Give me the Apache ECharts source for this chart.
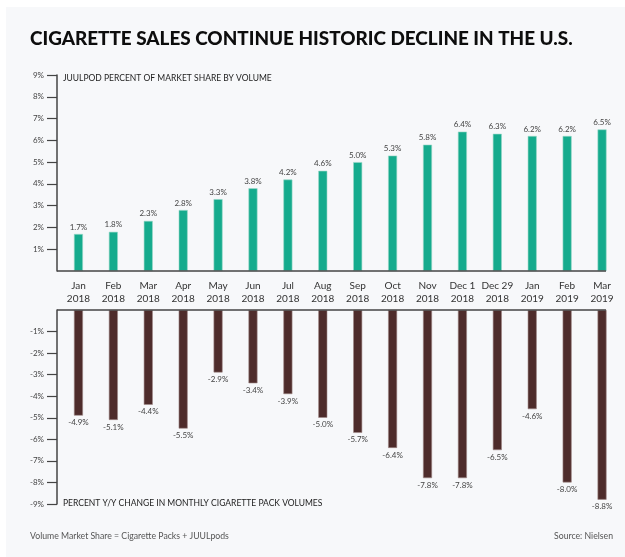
<!DOCTYPE html>
<html><head><meta charset="utf-8">
<script src="https://cdn.jsdelivr.net/npm/echarts@6/dist/echarts.min.js"></script>
<style>html,body{margin:0;padding:0;background:#fff}#c{width:625px;height:557px}</style>
</head><body><div id="c"></div>
<script>
const categories = ["Jan\n2018","Feb\n2018","Mar\n2018","Apr\n2018","May\n2018","Jun\n2018","Jul\n2018","Aug\n2018","Sep\n2018","Oct\n2018","Nov\n2018","Dec 1\n2018","Dec 29\n2018","Jan\n2019","Feb\n2019","Mar\n2019"];
const juulShare = [1.7,1.8,2.3,2.8,3.3,3.8,4.2,4.6,5.0,5.3,5.8,6.4,6.3,6.2,6.2,6.5];
const cigChange = [-4.9,-5.1,-4.4,-5.5,-2.9,-3.4,-3.9,-5.0,-5.7,-6.4,-7.8,-7.8,-6.5,-4.6,-8.0,-8.8];
const topTicks = [1,2,3,4,5,6,7,8,9];
const bottomTicks = [-1,-2,-3,-4,-5,-6,-7,-8,-9];

const FONT = 'Lato';
const chart = echarts.init(document.getElementById('c'));
const axisColor = '#444';
chart.setOption({
  backgroundColor: '#fff',
  animation: false,
  graphic: [
    {type:'rect', shape:{x:6,y:7,width:625,height:557}, style:{fill:'#f7f8fa'}, z:-10},
    {type:'text', left:30, top:29, style:{text:'CIGARETTE SALES CONTINUE HISTORIC DECLINE IN THE U.S.', font:'900 18.9px '+FONT, fill:'#0d0d0d'}},
    {type:'text', left:63, top:74, style:{text:'JUULPOD PERCENT OF MARKET SHARE BY VOLUME', font:'8.5px '+FONT, fill:'#222'}},
    {type:'text', left:63, top:499, style:{text:'PERCENT Y/Y CHANGE IN MONTHLY CIGARETTE PACK VOLUMES', font:'8.5px '+FONT, fill:'#222'}},
    {type:'text', left:30, top:532, style:{text:'Volume Market Share = Cigarette Packs + JUULpods', font:'8.7px '+FONT, fill:'#555'}},
    {type:'text', right:12, top:532, style:{text:'Source: Nielsen', font:'8.7px '+FONT, fill:'#555'}},
    {type:'line', shape:{x1:57,y1:271,x2:606,y2:271}, style:{stroke:axisColor, lineWidth:1.5}, z:20},
    {type:'line', shape:{x1:57,y1:310,x2:606,y2:310}, style:{stroke:axisColor, lineWidth:1.5}, z:20}
  ],
  grid: [
    {left:61, right:5.5, top:75, height:196},
    {left:61, right:5.5, top:310, height:194}
  ],
  xAxis: [
    {type:'category', gridIndex:0, data:categories, axisLine:{show:false}, axisTick:{show:false},
     axisLabel:{color:'#333', fontSize:10, fontFamily:FONT, lineHeight:13, margin:8, interval:0}},
    {type:'category', gridIndex:1, data:categories, axisLine:{show:false}, axisTick:{show:false}, axisLabel:{show:false}}
  ],
  yAxis: [
    {type:'value', gridIndex:0, min:0, max:9, interval:1, offset:4, splitLine:{show:false},
     axisLine:{show:true, lineStyle:{color:axisColor, width:1.5}},
     axisTick:{show:true, length:10, customValues:topTicks, lineStyle:{color:axisColor, width:1.2}},
     axisLabel:{customValues:topTicks, formatter:v=>v+'%', color:'#444', fontSize:8, fontFamily:FONT, margin:13}},
    {type:'value', gridIndex:1, min:-9, max:0, interval:1, offset:4, splitLine:{show:false},
     axisLine:{show:true, lineStyle:{color:axisColor, width:1.5}},
     axisTick:{show:true, length:10, customValues:bottomTicks, lineStyle:{color:axisColor, width:1.2}},
     axisLabel:{customValues:bottomTicks, formatter:v=>v+'%', color:'#444', fontSize:8, fontFamily:FONT, margin:13}}
  ],
  series: [
    {type:'bar', xAxisIndex:0, yAxisIndex:0, data:juulShare, barWidth:9,
     itemStyle:{color:'#15ab8d', borderColor:'#9ad9c8', borderWidth:0.6},
     label:{show:true, position:'top', distance:3, formatter:p=>p.value.toFixed(1)+'%', color:'#444', fontSize:8, fontFamily:FONT}},
    {type:'bar', xAxisIndex:1, yAxisIndex:1, data:cigChange, barWidth:9,
     itemStyle:{color:'#4e2c2b', borderColor:'#a08886', borderWidth:0.6},
     label:{show:true, position:'bottom', distance:3, formatter:p=>p.value.toFixed(1)+'%', color:'#444', fontSize:8, fontFamily:FONT}}
  ]
});
</script></body></html>
